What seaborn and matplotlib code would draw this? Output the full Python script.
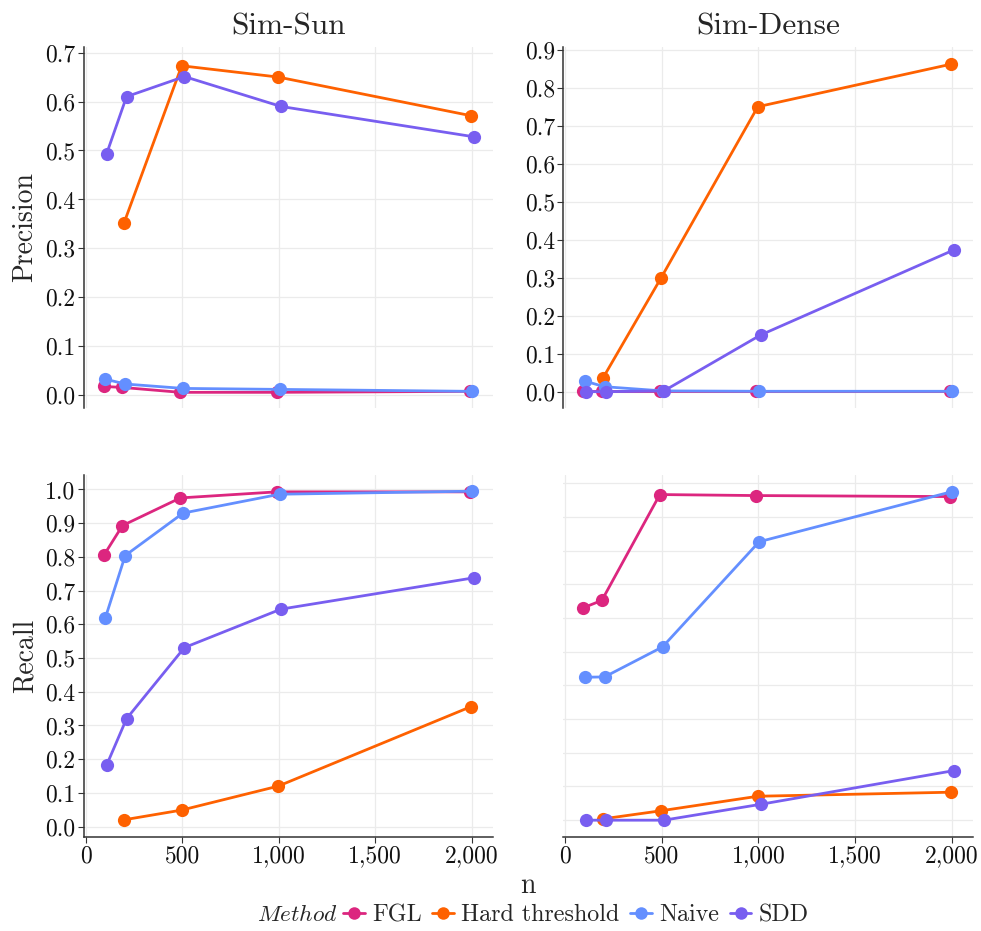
import numpy as np
import pandas as pd
import matplotlib
matplotlib.use("Agg")
import matplotlib.pyplot as plt
import seaborn as sns
from matplotlib.ticker import FixedLocator, FuncFormatter

sns.set_theme(style="white")
plt.rcParams["font.family"] = ["cmr10", "DejaVu Serif"]
plt.rcParams["mathtext.fontset"] = "cm"
plt.rcParams["axes.formatter.use_mathtext"] = True

# ---- data -------------------------------------------------------------
methods = ["FGL", "Hard threshold", "Naive", "SDD"]
n_values = [100, 200, 500, 1000, 2000]
nan = np.nan

prec_sun_fgl = [0.018, 0.016, 0.006, 0.006, 0.008]
prec_sun_hard = [nan, 0.351, 0.673, 0.650, 0.571]
prec_sun_naive = [0.033, 0.023, 0.014, 0.012, 0.008]
prec_sun_sdd = [0.493, 0.610, 0.651, 0.590, 0.528]

prec_dense_fgl = [0.001, 0.001, 0.001, 0.001, 0.001]
prec_dense_hard = [nan, 0.037, 0.300, 0.750, 0.862]
prec_dense_naive = [0.028, 0.013, 0.002, 0.001, 0.001]
prec_dense_sdd = [0.000, 0.000, 0.002, 0.149, 0.373]

rec_sun_fgl = [0.805, 0.893, 0.975, 0.993, 0.993]
rec_sun_hard = [nan, 0.020, 0.049, 0.120, 0.356]
rec_sun_naive = [0.618, 0.804, 0.930, 0.986, 0.995]
rec_sun_sdd = [0.182, 0.320, 0.531, 0.645, 0.738]

rec_dense_fgl = [0.630, 0.652, 0.966, 0.963, 0.960]
rec_dense_hard = [nan, 0.004, 0.028, 0.071, 0.083]
rec_dense_naive = [0.424, 0.425, 0.514, 0.826, 0.975]
rec_dense_sdd = [0.000, 0.000, 0.000, 0.047, 0.147]

palette = {"FGL": "#DC267F", "Hard threshold": "#FE6100",
           "Naive": "#648FFF", "SDD": "#785EF0"}

DODGE = 7.0  # spacing between neighbouring groups at one n


def long_frame(fgl, hard, naive, sdd):
    rows = []
    for m, vals in zip(methods, [fgl, hard, naive, sdd]):
        for n, v in zip(n_values, vals):
            if not np.isnan(v):
                rows.append({"n": n, "Method": m, "value": v})
    df = pd.DataFrame(rows)
    # dodge the groups present at each n symmetrically around n
    df["order"] = df["Method"].map({m: i for i, m in enumerate(methods)})
    df = df.sort_values(["n", "order"])
    df["rank"] = df.groupby("n").cumcount()
    df["count"] = df.groupby("n")["Method"].transform("size")
    df["x"] = df["n"] + (df["rank"] - (df["count"] - 1) / 2) * DODGE
    return df


panels = {
    ("Precision", "Sim-Sun"): long_frame(prec_sun_fgl, prec_sun_hard, prec_sun_naive, prec_sun_sdd),
    ("Precision", "Sim-Dense"): long_frame(prec_dense_fgl, prec_dense_hard, prec_dense_naive, prec_dense_sdd),
    ("Recall", "Sim-Sun"): long_frame(rec_sun_fgl, rec_sun_hard, rec_sun_naive, rec_sun_sdd),
    ("Recall", "Sim-Dense"): long_frame(rec_dense_fgl, rec_dense_hard, rec_dense_naive, rec_dense_sdd),
}

# ---- layout -----------------------------------------------------------
W, H = 981, 931
fig = plt.figure(figsize=(W / 100, H / 100), dpi=100)


def box(x0, y0, x1, y1):
    return [x0 / W, 1 - y1 / H, (x1 - x0) / W, (y1 - y0) / H]


axes = {
    ("Precision", "Sim-Sun"): fig.add_axes(box(84, 46.7, 493, 408)),
    ("Precision", "Sim-Dense"): fig.add_axes(box(563.3, 46.7, 973, 408)),
    ("Recall", "Sim-Sun"): fig.add_axes(box(84, 475, 493, 836.7)),
    ("Recall", "Sim-Dense"): fig.add_axes(box(563.3, 475, 973, 836.7)),
}

grid_col = "#EBEBEB"
spine_col = "#333333"
tick_fs = 17
xticks = [0, 500, 1000, 1500, 2000]

for (metric, sim), ax in axes.items():
    df = panels[(metric, sim)]
    sns.lineplot(data=df, x="x", y="value", hue="Method", hue_order=methods,
                 palette=palette, marker="o", markersize=9.5,
                 markeredgewidth=0, linewidth=2.0, estimator=None,
                 sort=True, ax=ax, legend=True)
    ax.set_xlim(-10, 2110)
    ax.xaxis.set_major_locator(FixedLocator(xticks))
    ax.xaxis.set_major_formatter(FuncFormatter(lambda v, p: f"{int(v):,}"))
    ax.yaxis.set_major_formatter(FuncFormatter(lambda v, p: f"{v:.1f}"))
    ax.grid(True, color=grid_col, linewidth=0.9)
    ax.set_axisbelow(True)
    for s in ax.spines.values():
        s.set_visible(False)
    ax.set_xlabel("")
    ax.set_ylabel("")
    ax.tick_params(axis="both", labelsize=tick_fs, labelcolor="#111111",
                   length=4, width=0.8, pad=2)
    ax.get_legend().remove()

    if metric == "Precision":
        ax.set_title(sim, fontsize=22.5, pad=9)
        ax.tick_params(axis="x", bottom=False, labelbottom=False)
        ax.spines["left"].set_visible(True)
        ax.spines["left"].set_color(spine_col)
        ax.spines["left"].set_linewidth(1.1)
        ax.tick_params(axis="y", left=True, color=spine_col)
    else:
        ax.spines["bottom"].set_visible(True)
        ax.spines["bottom"].set_color(spine_col)
        ax.spines["bottom"].set_linewidth(1.1)
        ax.tick_params(axis="x", bottom=True, color=spine_col)
        ax.yaxis.set_major_locator(FixedLocator(np.round(np.arange(0, 1.01, 0.1), 1)))
        if sim == "Sim-Sun":
            ax.spines["left"].set_visible(True)
            ax.spines["left"].set_color(spine_col)
            ax.spines["left"].set_linewidth(1.1)
            ax.tick_params(axis="y", left=True, color=spine_col)
        else:
            ax.tick_params(axis="y", left=False, labelleft=False)

axes[("Precision", "Sim-Sun")].set_ylim(-0.026, 0.712)
axes[("Precision", "Sim-Sun")].yaxis.set_major_locator(FixedLocator(np.round(np.arange(0, 0.71, 0.1), 1)))
axes[("Precision", "Sim-Dense")].set_ylim(-0.043, 0.908)
axes[("Precision", "Sim-Dense")].yaxis.set_major_locator(FixedLocator(np.round(np.arange(0, 0.91, 0.1), 1)))
axes[("Recall", "Sim-Sun")].set_ylim(-0.030, 1.043)
axes[("Recall", "Sim-Dense")].set_ylim(-0.049, 1.024)

axes[("Precision", "Sim-Sun")].set_ylabel("Precision", fontsize=20, labelpad=5)
axes[("Recall", "Sim-Sun")].set_ylabel("Recall", fontsize=20, labelpad=5)

# shared x label
fig.text(528 / W, 1 - 886 / H, "n", ha="center", va="center", fontsize=20)

# legend below the panels
handles = [plt.Line2D([], [], color=palette[m], marker="o", markersize=9,
                      markeredgewidth=0, linewidth=2.0) for m in methods]
fig.text(257 / W, 1 - 915 / H, r"$Method$", ha="left", va="center", fontsize=16.8)
fig.legend(handles, methods, loc="center left",
           bbox_to_anchor=(343 / W, 1 - 915 / H), ncol=4, frameon=False,
           fontsize=17.3, handlelength=0.9, handletextpad=0.3,
           columnspacing=0.45, borderaxespad=0, borderpad=0)

fig.savefig("out.png", dpi=100)
